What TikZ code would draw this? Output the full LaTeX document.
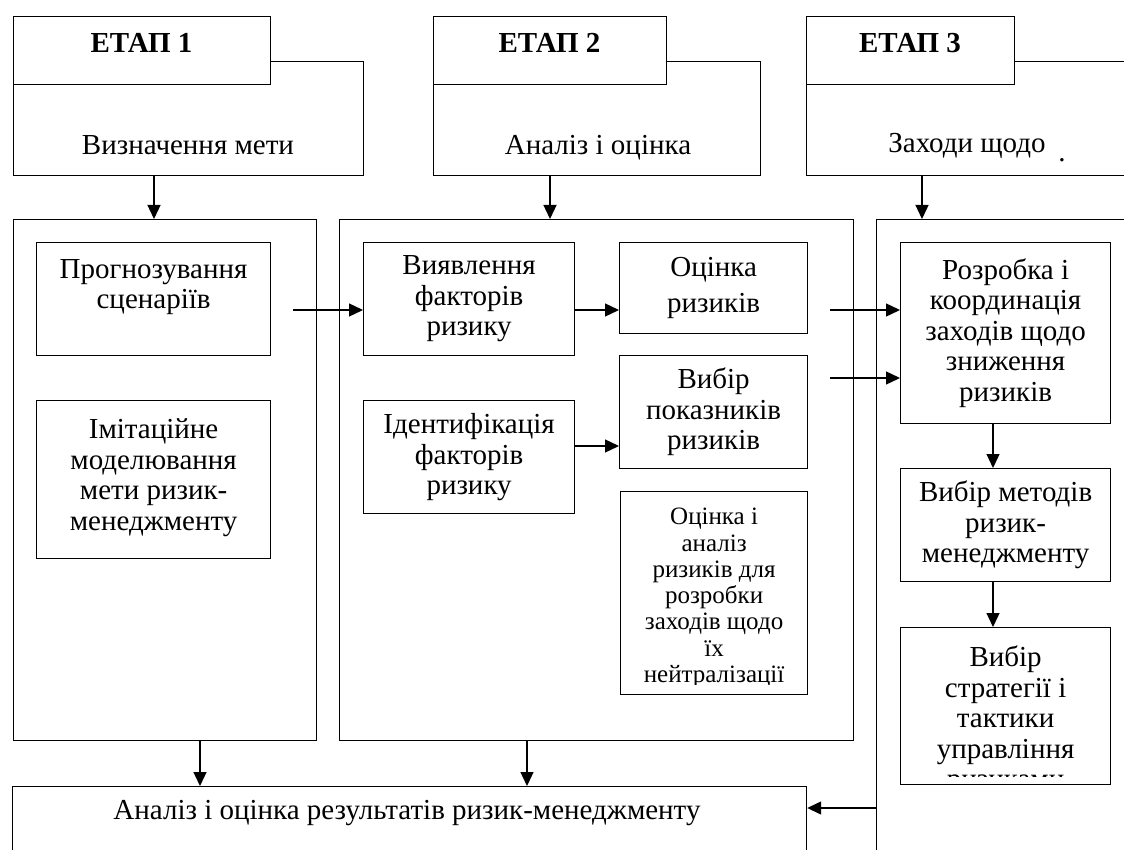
\documentclass[tikz,border=0pt]{standalone}
\usepackage{fontspec}
\setmainfont{Liberation Serif}
\usetikzlibrary{arrows.meta}
\begin{document}
\begin{tikzpicture}[x=1pt,y=-1pt,
  bx/.style={draw, line width=1.2pt, inner sep=0pt, anchor=north west, align=center, font=\fontsize{29}{30.5}\selectfont},
  wbx/.style={bx, fill=white},
  lbl/.style={inner sep=0pt, align=center, font=\fontsize{29}{30.5}\selectfont},
  hdl/.style={inner sep=0pt, anchor=base, font=\fontsize{29}{30}\selectfont\bfseries},
  small/.style={inner sep=0pt, align=center, font=\fontsize{25}{26.3}\selectfont},
  arr/.style={-{Triangle[width=13pt,length=14pt]}, line width=1.3pt}]
\useasboundingbox (0,0) rectangle (1124,850);
\clip (0,0) rectangle (1124,850);
\fill[white] (0,0) rectangle (1124,850);

% helper coordinates
\coordinate (a1) at (154,0);
\coordinate (a2) at (550,0);
\coordinate (a3) at (922,0);
\coordinate (b1) at (200,0);
\coordinate (b2) at (527,0);
\coordinate (m1) at (993,0);
\coordinate (p1) at (293,310);
\coordinate (q1) at (830,310);
\coordinate (q2) at (830,378);
\coordinate (y446) at (0,446);
\coordinate (r1) at (0,808);

% headers
\node[bx, minimum width=350pt, minimum height=114pt] (hdr1) at (13,61) {};
\node[wbx, minimum width=257pt, minimum height=68pt] (lab1) at (13,16) {};
\node[hdl] at (141.5,53) {ЕТАП 1};
\node[lbl, anchor=base] at (188,155) {Визначення мети};

\node[bx, minimum width=327pt, minimum height=114pt] (hdr2) at (433,61) {};
\node[wbx, minimum width=233pt, minimum height=68pt] (lab2) at (433,16) {};
\node[hdl] at (549.5,53) {ЕТАП 2};
\node[lbl, anchor=base] at (598,155) {Аналіз і оцінка};

\node[bx, minimum width=330pt, minimum height=114pt] (hdr3) at (806,61) {};
\node[wbx, minimum width=208pt, minimum height=68pt] (lab3) at (806,16) {};
\node[hdl] at (910,53) {ЕТАП 3};
\node[lbl, anchor=base] at (967,153) {Заходи щодо};
\node[lbl, anchor=base] at (1062,162) {.};

% big boxes
\node[bx, minimum width=303pt, minimum height=521pt] (big1) at (13,219) {};
\node[bx, minimum width=514pt, minimum height=521pt] (big2) at (339,219) {};
\node[bx, minimum width=300pt, minimum height=700pt] (big3) at (876,219) {};

% stage 1 inner
\node[bx, minimum width=234pt, minimum height=113pt] (prog) at (36,242) {};
\node[lbl] at ([yshift=12pt]prog.center) {Прогнозування\\сценаріїв};
\node[bx, minimum width=234pt, minimum height=158pt] (imit) at (36,400) {};
\node[lbl] at ([yshift=2pt]imit.center) {Імітаційне\\моделювання\\мети ризик-\\менеджменту};

% stage 2 inner
\node[bx, minimum width=211pt, minimum height=113pt] (vyyav) at (363,242) {Виявлення\\факторів\\ризику};
\node[bx, minimum width=188pt, minimum height=91pt] (ocin) at (619,242) {Оцінка\\[5pt]ризиків};
\node[bx, minimum width=188pt, minimum height=113pt] (vybpok) at (619,355) {Вибір\\показників\\ризиків};
\node[bx, minimum width=211pt, minimum height=113pt] (ident) at (363,400) {Ідентифікація\\факторів\\ризику};
\node[bx, minimum width=187pt, minimum height=203pt] (ocan) at (620,491) {};
\begin{scope}
\clip (ocan.north west) rectangle ([yshift=11pt]ocan.south east);
\node[small, anchor=north] at ([yshift=-17pt]ocan.north) {Оцінка і\\аналіз\\ризиків для\\розробки\\заходів щодо\\їх\\нейтралізації};
\end{scope}

% stage 3 inner
\node[bx, minimum width=210pt, minimum height=181pt] (rozr) at (900,242) {Розробка і\\координація\\заходів щодо\\зниження\\ризиків};
\node[bx, minimum width=210pt, minimum height=113pt] (vybmet) at (900,468) {Вибір методів\\ризик-\\менеджменту};
\node[bx, minimum width=210pt, minimum height=157pt] (vybstr) at (900,627) {};
\begin{scope}
\clip (vybstr.north west) rectangle ([yshift=9pt]vybstr.south east);
\node[lbl, anchor=north] at ([yshift=-19pt]vybstr.north) {Вибір\\стратегії і\\тактики\\управління\\ризиками};
\end{scope}

% bottom box
\node[bx, minimum width=794pt, minimum height=120pt] (res) at (12,786) {};
\node[lbl, anchor=base] at (407,819) {Аналіз і оцінка результатів ризик-менеджменту};

% arrows
\draw[arr] (hdr1.south -| a1) -- (big1.north -| a1);
\draw[arr] (hdr2.south -| a2) -- (big2.north -| a2);
\draw[arr] (hdr3.south -| a3) -- (big3.north -| a3);
\draw[arr] (p1) -- (p1 -| vyyav.west);
\draw[arr] (vyyav.east |- p1) -- (ocin.west |- p1);
\draw[arr] (ident.east |- y446) -- (vybpok.west |- y446);
\draw[arr] (q1) -- (q1 -| rozr.west);
\draw[arr] (q2) -- (q2 -| rozr.west);
\draw[arr] (rozr.south -| m1) -- (vybmet.north -| m1);
\draw[arr] (vybmet.south -| m1) -- (vybstr.north -| m1);
\draw[arr] (big1.south -| b1) -- (res.north -| b1);
\draw[arr] (big2.south -| b2) -- (res.north -| b2);
\draw[arr] (big3.west |- r1) -- (res.east |- r1);
\end{tikzpicture}
\end{document}
